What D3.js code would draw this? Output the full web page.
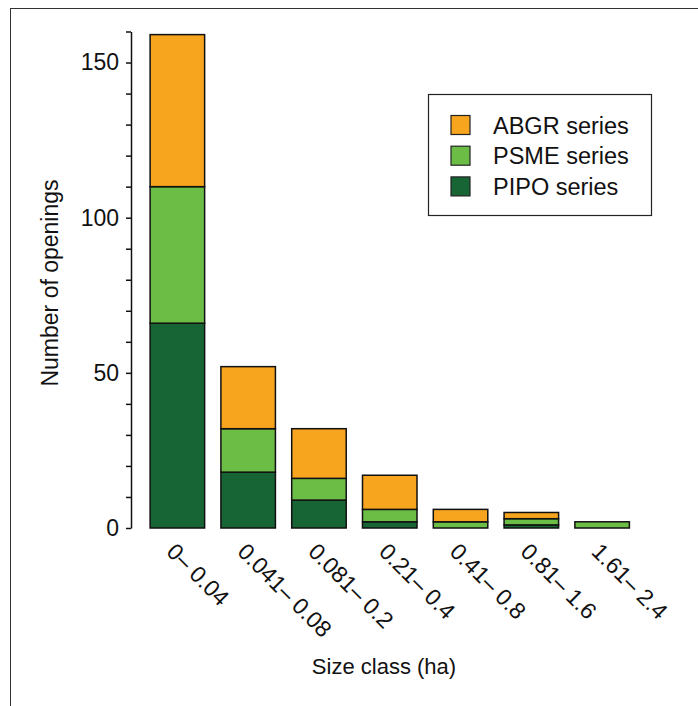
<!DOCTYPE html>
<html>
<head>
<meta charset="utf-8">
<script src="https://cdn.jsdelivr.net/npm/d3@7"></script>
<style>
  html, body { margin: 0; padding: 0; background: #fff; }
  svg { display: block; font-family: "Liberation Sans", Arial, Helvetica, sans-serif; }
</style>
</head>
<body>
<svg id="chart" width="698" height="706"></svg>
<script>
// Size classes of canopy openings (ha)
const categories = ["0\u2013 0.04", "0.041\u2013 0.08", "0.081\u2013 0.2", "0.21\u2013 0.4", "0.41\u2013 0.8", "0.81\u2013 1.6", "1.61\u2013 2.4"];

// Number of openings per series, stacked bottom to top: PIPO, PSME, ABGR
const pipo = [66, 18, 9, 2, 0, 1, 0];
const psme = [44, 14, 7, 4, 2, 2, 2];
const abgr = [49, 20, 16, 11, 4, 2, 0];

const seriesNames = ["PIPO series", "PSME series", "ABGR series"];
const seriesColors = ["#176535", "#6cbd45", "#f7a41e"];
const legendOrder = ["ABGR series", "PSME series", "PIPO series"];

const yTicks = [0, 10, 20, 30, 40, 50, 60, 70, 80, 90, 100, 110, 120, 130, 140, 150, 160];

const svg = d3.select("#chart");

// outer frame (extends beyond the right and bottom edges)
svg.append("rect")
  .attr("x", 10.5).attr("y", 8.5)
  .attr("width", 900).attr("height", 900)
  .attr("fill", "none").attr("stroke", "#333").attr("stroke-width", 1);

const axisX = 131;
const y = d3.scaleLinear().domain([0, 160]).range([528, 31.5]);
const x = d3.scaleBand().domain(categories).range([131, 648.5])
  .paddingInner(0.23).paddingOuter(0.27);

// stack the series
const rows = categories.map((c, i) => ({ cat: c, "PIPO series": pipo[i], "PSME series": psme[i], "ABGR series": abgr[i] }));
const stacked = d3.stack().keys(seriesNames)(rows);
const color = d3.scaleOrdinal().domain(seriesNames).range(seriesColors);

const layers = svg.append("g").selectAll("g")
  .data(stacked).join("g")
  .attr("fill", d => color(d.key));

layers.selectAll("rect")
  .data(d => d.filter(s => s[1] - s[0] > 0))
  .join("rect")
  .attr("x", d => x(d.data.cat))
  .attr("width", x.bandwidth())
  .attr("y", d => y(d[1]))
  .attr("height", d => y(d[0]) - y(d[1]))
  .attr("stroke", "#111")
  .attr("stroke-width", 1.5);

// y axis
const yAxis = d3.axisLeft(y)
  .tickValues(yTicks)
  .tickSize(5)
  .tickSizeOuter(0)
  .tickFormat(d => d % 50 === 0 ? d : "");
const gy = svg.append("g").attr("transform", `translate(${axisX},0)`).call(yAxis);
gy.select(".domain").attr("stroke", "#111").attr("stroke-width", 1.5);
gy.selectAll(".tick line").attr("stroke", "#111").attr("stroke-width", 1.5);
gy.selectAll(".tick text")
  .attr("font-size", 23)
  .attr("font-family", "Liberation Sans, Arial, sans-serif")
  .attr("fill", "#111")
  .attr("x", -12);

// x tick labels, rotated
svg.append("g").selectAll("text")
  .data(categories).join("text")
  .attr("transform", d => `translate(${x(d) + x.bandwidth() / 2 - 12},553) rotate(45)`)
  .attr("text-anchor", "start")
  .attr("font-size", 23)
  .attr("fill", "#111")
  .text(d => d);

// axis titles
svg.append("text")
  .attr("transform", "translate(58,283) rotate(-90)")
  .attr("text-anchor", "middle")
  .attr("font-size", 23)
  .attr("fill", "#111")
  .text("Number of openings");

svg.append("text")
  .attr("x", 384).attr("y", 674)
  .attr("text-anchor", "middle")
  .attr("font-size", 22)
  .attr("fill", "#111")
  .text("Size class (ha)");

// legend
const lg = svg.append("g");
lg.append("rect")
  .attr("x", 428.5).attr("y", 94.5)
  .attr("width", 223).attr("height", 121)
  .attr("fill", "#fff").attr("stroke", "#222").attr("stroke-width", 1.2);

const items = lg.selectAll("g.item")
  .data(legendOrder).join("g")
  .attr("class", "item")
  .attr("transform", (d, i) => `translate(451,${125 + i * 30.7})`);

items.append("rect")
  .attr("x", 0).attr("y", -9.5)
  .attr("width", 19).attr("height", 19)
  .attr("fill", d => color(d))
  .attr("stroke", "#222").attr("stroke-width", 1.2);

items.append("text")
  .attr("x", 42).attr("y", 8.5)
  .attr("font-size", 23.5)
  .attr("fill", "#111")
  .text(d => d);
</script>
</body>
</html>
